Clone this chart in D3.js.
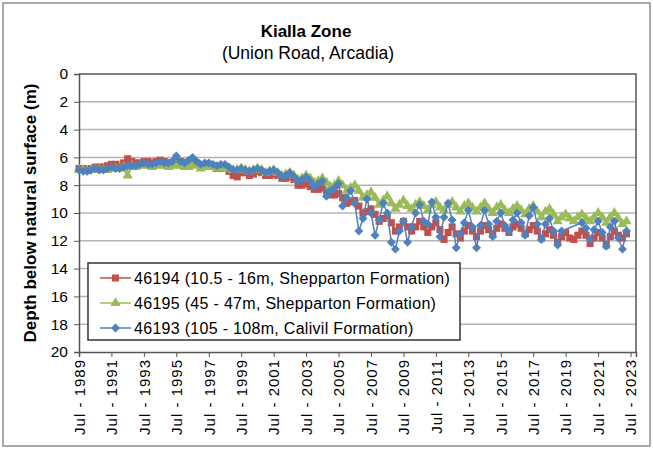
<!DOCTYPE html>
<html>
<head>
    <title>Kialla Zone</title>
    <script src="https://d3js.org/d3.v7.min.js"></script>
    <style>
        body { margin: 0; background: #fff; }
        svg text { font-family: "Liberation Sans", Arial, sans-serif; fill: #000; }
    </style>
</head>
<body>
    <svg id="chart" width="653" height="450"></svg>

    <script>
        // quarterly readings (Jan, Apr, Jul, Oct), one row per year, depth in metres
        const years = [1989, 1990, 1991, 1992, 1993, 1994, 1995, 1996, 1997, 1998, 1999, 2000,
                       2001, 2002, 2003, 2004, 2005, 2006, 2007, 2008, 2009, 2010, 2011, 2012,
                       2013, 2014, 2015, 2016, 2017, 2018, 2019, 2020, 2021, 2022, 2023];
        const quarterMonths = [0, 3, 6, 9];

        const bore46194 = [
            [null, null, 6.8, 6.8], [6.9, 6.8, 6.7, 6.7], [6.7, 6.6, 6.5, 6.5], [6.6, 6.4, 6.1, 6.3],
            [6.4, 6.4, 6.3, 6.3], [6.4, 6.3, 6.2, 6.3], [6.4, 6.4, 6.3, 6.3], [6.4, 6.4, 6.3, 6.4],
            [6.6, 6.6, 6.5, 6.6], [6.8, 6.8, 6.7, 7.0], [7.3, 7.4, 7.1, 7.1], [7.3, 7.2, 7.0, 7.1],
            [7.3, 7.3, 7.2, 7.3], [7.5, 7.5, 7.4, 7.6], [8.0, 8.0, 7.9, 8.1], [8.3, 8.3, 8.2, 8.4],
            [8.7, 8.7, 8.6, 8.9], [9.3, 9.2, 9.1, 9.5], [10.0, 9.9, 9.7, 10.1], [10.6, 10.4, 10.2, 10.7],
            [11.3, 11.0, 10.6, 11.0], [11.3, 11.0, 10.6, 11.0], [11.4, 11.0, 10.7, 11.2], [11.9, 11.4, 11.0, 11.5],
            [11.8, 11.3, 10.9, 11.3], [11.7, 11.3, 10.9, 11.2], [11.5, 11.1, 10.8, 11.1], [11.4, 11.0, 10.8, 11.1],
            [11.5, 11.2, 10.9, 11.3], [11.8, 11.5, 11.2, 11.6], [12.1, 11.7, 11.4, 11.8], [11.9, 11.6, 11.3, 11.6],
            [12.2, 11.8, 11.4, 11.8], [12.3, 11.7, 11.3, 11.6], [11.8, 11.5, null, null]
        ];

        const bore46195 = [
            [null, null, 6.9, 6.9], [7.0, 6.9, 6.8, 6.9], [6.9, 6.9, 6.8, 6.8], [6.8, 6.7, 7.3, 6.6],
            [6.7, 6.6, 6.5, 6.6], [6.7, 6.6, 6.5, 6.6], [6.7, 6.6, 6.5, 6.6], [6.7, 6.7, 6.5, 6.6],
            [6.8, 6.7, 6.6, 6.7], [6.8, 6.8, 6.7, 6.8], [6.9, 6.9, 6.8, 6.9], [7.0, 6.9, 6.8, 6.9],
            [7.1, 7.0, 6.9, 7.1], [7.3, 7.2, 7.1, 7.3], [7.6, 7.5, 7.3, 7.5], [7.8, 7.7, 7.5, 7.8],
            [8.1, 8.0, 7.7, 8.0], [8.4, 8.2, 8.0, 8.4], [8.9, 8.7, 8.5, 8.9], [9.4, 9.1, 8.8, 9.3],
            [9.7, 9.4, 9.1, 9.5], [9.7, 9.4, 9.2, 9.5], [9.8, 9.4, 9.2, 9.6], [9.8, 9.4, 9.2, 9.6],
            [9.9, 9.5, 9.3, 9.6], [9.9, 9.6, 9.3, 9.7], [10.0, 9.6, 9.4, 9.8], [10.0, 9.7, 9.5, 9.8],
            [10.1, 9.7, 9.5, 9.9], [10.3, 9.9, 9.7, 10.1], [10.6, 10.3, 10.1, 10.4], [10.6, 10.3, 10.1, 10.4],
            [10.6, 10.3, 10.0, 10.3], [10.7, 10.3, 10.0, 10.4], [10.8, 10.6, null, null]
        ];

        const bore46193 = [
            [null, null, 6.9, 7.0], [7.0, 6.9, 6.8, 6.9], [6.9, 6.8, 6.7, 6.8], [6.8, 6.7, 6.6, 6.6],
            [6.6, 6.5, 6.4, 6.5], [6.5, 6.4, 6.3, 6.4], [6.4, 6.3, 5.9, 6.3], [6.4, 6.2, 6.0, 6.3],
            [6.5, 6.4, 6.4, 6.5], [6.6, 6.5, 6.5, 6.7], [6.9, 6.9, 6.8, 6.9], [7.0, 6.9, 6.8, 6.9],
            [7.1, 7.0, 6.9, 7.1], [7.4, 7.3, 7.1, 7.4], [7.7, 7.6, 7.4, 7.7], [8.1, 7.9, 7.7, 8.8],
            [8.4, 8.2, 7.9, 9.5], [8.9, 8.4, 9.3, 11.3], [10.4, 9.0, 10.0, 11.6], [10.5, 9.3, 10.0, 12.1],
            [12.6, 11.3, 10.6, 12.1], [11.0, 10.0, 9.4, 10.6], [10.8, 9.2, 10.3, 11.7], [10.3, 9.3, 10.5, 12.5],
            [11.5, 10.7, 9.8, 11.0], [12.5, 10.9, 9.8, 10.8], [11.7, 10.6, 10.0, 10.9], [11.3, 10.5, 10.0, 10.7],
            [11.6, 10.2, 9.6, 10.8], [11.9, 10.8, 10.4, 11.3], [12.3, 11.3, null, null], [null, null, 10.7, 11.1],
            [11.9, 11.2, 10.6, 11.4], [12.4, 11.0, 10.6, 11.8], [12.6, 11.3, null, null]
        ];

        const seriesNames = ["46194 (10.5 - 16m, Shepparton Formation)",
                             "46195 (45 - 47m, Shepparton Formation)",
                             "46193 (105 - 108m, Calivil Formation)"];
        const seriesColors = ["#C0504D", "#9BBB59", "#4F81BD"];
        const tickYears = [1989, 1991, 1993, 1995, 1997, 1999, 2001, 2003, 2005, 2007, 2009,
                           2011, 2013, 2015, 2017, 2019, 2021, 2023];
        const depthTicks = [0, 2, 4, 6, 8, 10, 12, 14, 16, 18, 20];

        const svg = d3.select("svg#chart");
        const plot = { left: 79, right: 636, top: 74, bottom: 352 };

        const x = d3.scaleTime()
            .domain([new Date(1989, 6, 1), new Date(2023, 10, 1)])
            .range([plot.left, plot.right]);
        const y = d3.scaleLinear().domain([0, 20]).range([plot.top, plot.bottom]);

        function toPoints(rows) {
            const pts = [];
            rows.forEach((row, i) => {
                row.forEach((v, q) => {
                    if (v !== null) pts.push({ date: new Date(years[i], quarterMonths[q], 1), value: v });
                });
            });
            return pts;
        }
        const series = [bore46194, bore46195, bore46193].map((rows, i) => ({
            name: seriesNames[i], color: seriesColors[i], points: toPoints(rows)
        }));

        // outer frame
        svg.append("rect")
            .attr("x", 3).attr("y", 3).attr("width", 647).attr("height", 443)
            .attr("fill", "none").attr("stroke", "#8c8c8c").attr("stroke-width", 1.5);

        // title
        svg.append("text").attr("x", 306).attr("y", 37).attr("text-anchor", "middle")
            .style("font-size", "17px").style("font-weight", "bold").text("Kialla Zone");
        svg.append("text").attr("x", 308).attr("y", 59).attr("text-anchor", "middle")
            .style("font-size", "17.5px").text("(Union Road, Arcadia)");

        // gridlines
        svg.append("g").selectAll("line")
            .data(depthTicks.slice(1, -1))
            .join("line")
            .attr("x1", plot.left).attr("x2", plot.right)
            .attr("y1", d => y(d)).attr("y2", d => y(d))
            .attr("stroke", "#b4b4b4").attr("stroke-width", 1.5);

        // plot border (top, right)
        svg.append("path")
            .attr("d", `M${plot.left},${plot.top}H${plot.right}V${plot.bottom}`)
            .attr("fill", "none").attr("stroke", "#555").attr("stroke-width", 1.5);

        // y axis
        const yAxis = svg.append("g")
            .attr("transform", `translate(${plot.left},0)`)
            .call(d3.axisLeft(y).tickValues(depthTicks).tickSize(5).tickPadding(6));
        yAxis.select(".domain").attr("stroke", "#555").attr("stroke-width", 1.5);
        yAxis.selectAll(".tick line").attr("stroke", "#555");
        yAxis.selectAll(".tick text").style("font-size", "15.5px")
            .style("font-family", "'Liberation Sans', Arial, sans-serif");

        // x axis
        const xAxis = svg.append("g")
            .attr("transform", `translate(0,${plot.bottom})`)
            .call(d3.axisBottom(x)
                .tickValues(tickYears.map(yr => new Date(yr, 6, 1)))
                .tickFormat(d => "Jul - " + d.getFullYear())
                .tickSize(5).tickPadding(6));
        xAxis.select(".domain").attr("stroke", "#555").attr("stroke-width", 1.5);
        xAxis.selectAll(".tick line").attr("stroke", "#555");
        xAxis.selectAll(".tick text")
            .style("font-size", "15px")
            .style("letter-spacing", "1px")
            .style("font-family", "'Liberation Sans', Arial, sans-serif")
            .attr("text-anchor", "end")
            .attr("transform", "rotate(-90)")
            .attr("x", -7).attr("y", 0).attr("dy", "0.35em");

        // y axis title
        svg.append("text")
            .attr("transform", `translate(36,${(plot.top + plot.bottom) / 2}) rotate(-90)`)
            .attr("text-anchor", "middle")
            .style("font-size", "17px").style("font-weight", "bold")
            .text("Depth below natural surface (m)");

        // markers
        const markerShapes = [
            d3.symbol().type(d3.symbolSquare).size(50),
            d3.symbol().type(d3.symbolTriangle).size(46),
            d3.symbol().type(d3.symbolSquare).size(40)
        ];
        const markerRotate = [0, 0, 45];
        const lineWidths = [2.5, 2.5, 1.5];

        const line = d3.line().x(d => x(d.date)).y(d => y(d.value));

        series.forEach((s, i) => {
            const g = svg.append("g");
            g.append("path")
                .datum(s.points)
                .attr("d", line)
                .attr("fill", "none")
                .attr("stroke", s.color)
                .attr("stroke-width", lineWidths[i]);
            g.selectAll("path.mark")
                .data(s.points)
                .join("path")
                .attr("class", "mark")
                .attr("d", markerShapes[i])
                .attr("fill", s.color)
                .attr("transform", d => `translate(${x(d.date)},${y(d.value)}) rotate(${markerRotate[i]})`);
        });

        // legend
        const legend = svg.append("g");
        legend.append("rect")
            .attr("x", 88).attr("y", 263).attr("width", 372).attr("height", 77)
            .attr("fill", "#fff").attr("stroke", "#333").attr("stroke-width", 1.5);

        const items = legend.selectAll("g.item")
            .data(series)
            .join("g")
            .attr("class", "item")
            .attr("transform", (d, i) => `translate(0,${278 + i * 25})`);
        items.append("line")
            .attr("x1", 100).attr("x2", 131)
            .attr("stroke", d => d.color).attr("stroke-width", 1.5);
        items.append("path")
            .attr("d", (d, i) => markerShapes[i]())
            .attr("fill", d => d.color)
            .attr("transform", (d, i) => `translate(115.5,0) rotate(${markerRotate[i]})`);
        items.append("text")
            .attr("x", 134).attr("y", 0).attr("dy", "0.35em")
            .style("font-size", "16px")
            .style("letter-spacing", "0.3px")
            .text(d => d.name);
    </script>
</body>
</html>
